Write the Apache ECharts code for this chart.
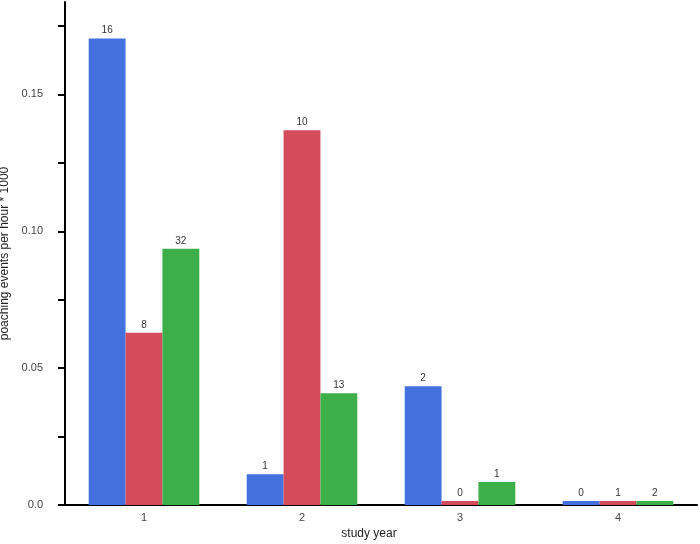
<!DOCTYPE html>
<html>
    <head>
        <meta charset="utf-8">
        <script src="https://cdn.jsdelivr.net/npm/echarts@6/dist/echarts.min.js"></script>
        <style type="text/css">
            #main {height:544px;width:700px;position:absolute;}
            body {margin:0px;padding:0px;overflow:hidden;background:#fff;}
        </style>
    </head>
    <body>
        <div id="main"></div>
        <script type="text/javascript">
            // study years on the x axis
            let years = ['1', '2', '3', '4'];
            // poaching events per hour * 1000, one array per series
            let blueVals  = [0.1704, 0.0112, 0.0434, 0.0015];
            let redVals   = [0.0629, 0.1369, 0.0015, 0.0015];
            let greenVals = [0.0936, 0.0408, 0.0084, 0.0015];
            // counts printed above the bars
            let blueCounts  = [16, 1, 2, 0];
            let redCounts   = [8, 10, 0, 1];
            let greenCounts = [32, 13, 1, 2];
            // y ticks (minor ones unlabelled) and labelled ticks
            let yTicks  = [0, 0.025, 0.05, 0.075, 0.1, 0.125, 0.15, 0.175];
            let yLabels = [0, 0.05, 0.1, 0.15];

            let colors = ['#4471DE', '#D44B5C', '#3DAF48'];
            let font = 'Liberation Sans, Arial, sans-serif';

            let myChart = echarts.init(document.getElementById('main'));

            function makeSeries(vals, counts, i){
                return {
                    type: 'bar',
                    data: vals,
                    barGap: '0%',
                    barCategoryGap: '30%',
                    itemStyle: { color: colors[i] },
                    label: {
                        show: true,
                        position: 'top',
                        distance: 3,
                        fontSize: 10,
                        color: '#333',
                        fontFamily: font,
                        formatter: function(p){ return String(counts[p.dataIndex]); }
                    }
                };
            }

            let option = {
                animation: false,
                grid: { left: 65, right: 3, top: 2, bottom: 39, containLabel: false, outerBoundsMode: 'none' },
                xAxis: {
                    type: 'category',
                    data: years,
                    name: 'study year',
                    nameLocation: 'middle',
                    nameGap: 23,
                    nameTextStyle: { fontSize: 12, color: '#222', fontFamily: font, padding: [0, 24, 0, 0] },
                    axisLine: { lineStyle: { color: '#000', width: 2 } },
                    axisTick: { show: false },
                    axisLabel: { fontSize: 11, color: '#444', margin: 7, fontFamily: font },
                    splitLine: { show: false }
                },
                yAxis: {
                    type: 'value',
                    min: 0,
                    max: 0.18375,
                    name: 'poaching events per hour * 1000',
                    nameLocation: 'middle',
                    nameGap: 47,
                    nameTextStyle: { fontSize: 12, color: '#222', fontFamily: font },
                    axisLine: { show: true, lineStyle: { color: '#000', width: 2 } },
                    axisTick: { show: true, inside: false, length: 7, customValues: yTicks, lineStyle: { color: '#000', width: 2 } },
                    axisLabel: {
                        fontSize: 11,
                        color: '#444',
                        margin: 22,
                        fontFamily: font,
                        customValues: yLabels,
                        formatter: function(v){ return v === 0 ? '0.0' : v.toFixed(2); }
                    },
                    splitLine: { show: false }
                },
                series: [
                    makeSeries(blueVals, blueCounts, 0),
                    makeSeries(redVals, redCounts, 1),
                    makeSeries(greenVals, greenCounts, 2)
                ]
            };
            myChart.setOption(option);

            window.onresize = myChart.resize;
        </script>
    </body>
</html>
